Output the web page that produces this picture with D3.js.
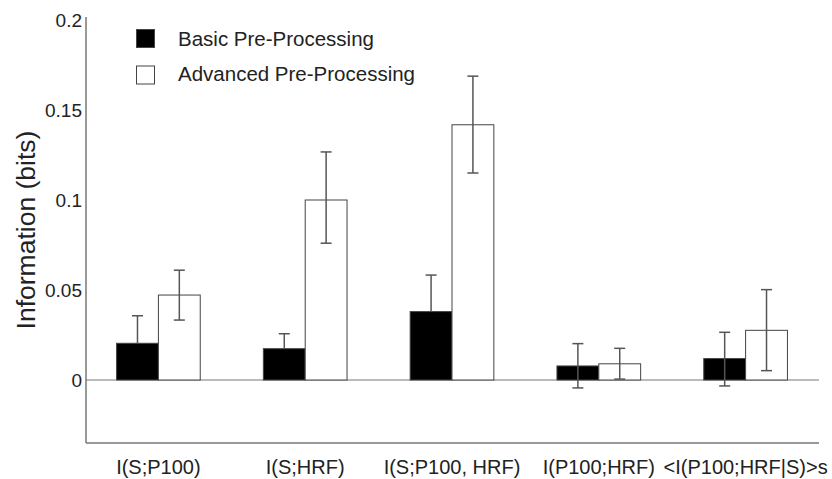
<!DOCTYPE html>
<html><head><meta charset="utf-8">
<script src="https://cdn.jsdelivr.net/npm/d3@7"></script>
<style>body{margin:0;background:#fff}svg{display:block}text{font-family:"Liberation Sans",Arial,sans-serif;fill:#222}</style>
</head><body><svg id="c" width="832" height="479"></svg>
<script>
const categories = ["I(S;P100)", "I(S;HRF)", "I(S;P100, HRF)", "I(P100;HRF)", "<I(P100;HRF|S)>s"];
const seriesNames = ["Basic Pre-Processing", "Advanced Pre-Processing"];
const basicValues = [0.0204, 0.0174, 0.038, 0.0078, 0.0119];
const basicErrLow = [0.0204, 0.0174, 0.038, -0.0044, -0.0033];
const basicErrHigh = [0.0357, 0.0257, 0.0583, 0.0202, 0.0265];
const advValues = [0.0472, 0.1, 0.1418, 0.009, 0.0276];
const advErrLow = [0.0333, 0.076, 0.115, 0.0005, 0.0052];
const advErrHigh = [0.061, 0.1267, 0.1688, 0.0176, 0.0502];
const yTicks = [0, 0.05, 0.1, 0.15, 0.2];
const yTickLabels = ["0", "0.05", "0.1", "0.15", "0.2"];

const svg = d3.select("#c");
const y = d3.scaleLinear().domain([-0.035, 0.2]).range([443, 20]);
const x0 = d3.scaleBand().domain(categories).range([85, 819]).paddingInner(0.43).paddingOuter(0.215);
const x1 = d3.scaleBand().domain(seriesNames).range([0, x0.bandwidth()]);

const series = [
  {name: seriesNames[0], vals: basicValues, lo: basicErrLow, hi: basicErrHigh, fill: "#000"},
  {name: seriesNames[1], vals: advValues, lo: advErrLow, hi: advErrHigh, fill: "#fff"}
];

// zero line
svg.append("line").attr("x1", 86).attr("x2", 819).attr("y1", y(0)).attr("y2", y(0))
  .attr("stroke", "#777").attr("stroke-width", 1);

// bars
series.forEach(s => {
  svg.append("g").selectAll("rect").data(categories).join("rect")
    .attr("x", c => x0(c) + x1(s.name))
    .attr("width", x1.bandwidth())
    .attr("y", (c, i) => Math.min(y(s.vals[i]), y(0)))
    .attr("height", (c, i) => Math.abs(y(0) - y(s.vals[i])))
    .attr("fill", s.fill).attr("stroke", "#444").attr("stroke-width", 1);
});
// error bars
series.forEach(s => {
  const g = svg.append("g").attr("stroke", "#555").attr("stroke-width", 1.5);
  categories.forEach((c, i) => {
    const cx = x0(c) + x1(s.name) + x1.bandwidth() / 2;
    g.append("line").attr("x1", cx).attr("x2", cx).attr("y1", y(s.lo[i])).attr("y2", y(s.hi[i]));
    [s.lo[i], s.hi[i]].forEach(v => {
      if (Math.abs(v - s.vals[i]) < 1e-9) return;
      g.append("line").attr("x1", cx - 5.5).attr("x2", cx + 5.5).attr("y1", y(v)).attr("y2", y(v));
    });
  });
});

// axes lines
svg.append("line").attr("x1", 86).attr("x2", 86).attr("y1", 17).attr("y2", 443).attr("stroke", "#777").attr("stroke-width", 1.5);
svg.append("line").attr("x1", 86).attr("x2", 819).attr("y1", 443).attr("y2", 443).attr("stroke", "#777").attr("stroke-width", 1.5);

// y tick labels
svg.append("g").selectAll("text").data(yTicks).join("text")
  .attr("x", 82).attr("y", d => y(d)).attr("dy", "0.35em").attr("text-anchor", "end")
  .attr("font-size", 19).text((d, i) => yTickLabels[i]);

// y title
svg.append("text").attr("transform", "translate(35,230) rotate(-90)").attr("text-anchor", "middle")
  .attr("font-size", 26.5).text("Information (bits)");

// x labels
svg.append("g").selectAll("text").data(categories).join("text")
  .attr("x", c => x0(c) + x0.bandwidth() / 2).attr("y", 474).attr("text-anchor", "middle")
  .attr("font-size", 20).text(d => d);

// legend
const leg = svg.append("g");
series.forEach((s, i) => {
  leg.append("rect").attr("x", 136.5).attr("y", 29.5 + i * 36.5).attr("width", 18).attr("height", 18)
    .attr("fill", s.fill).attr("stroke", "#444").attr("stroke-width", 1);
  leg.append("text").attr("x", 178).attr("y", 46 + i * 35).attr("font-size", 20.5).text(s.name);
});
</script></body></html>
